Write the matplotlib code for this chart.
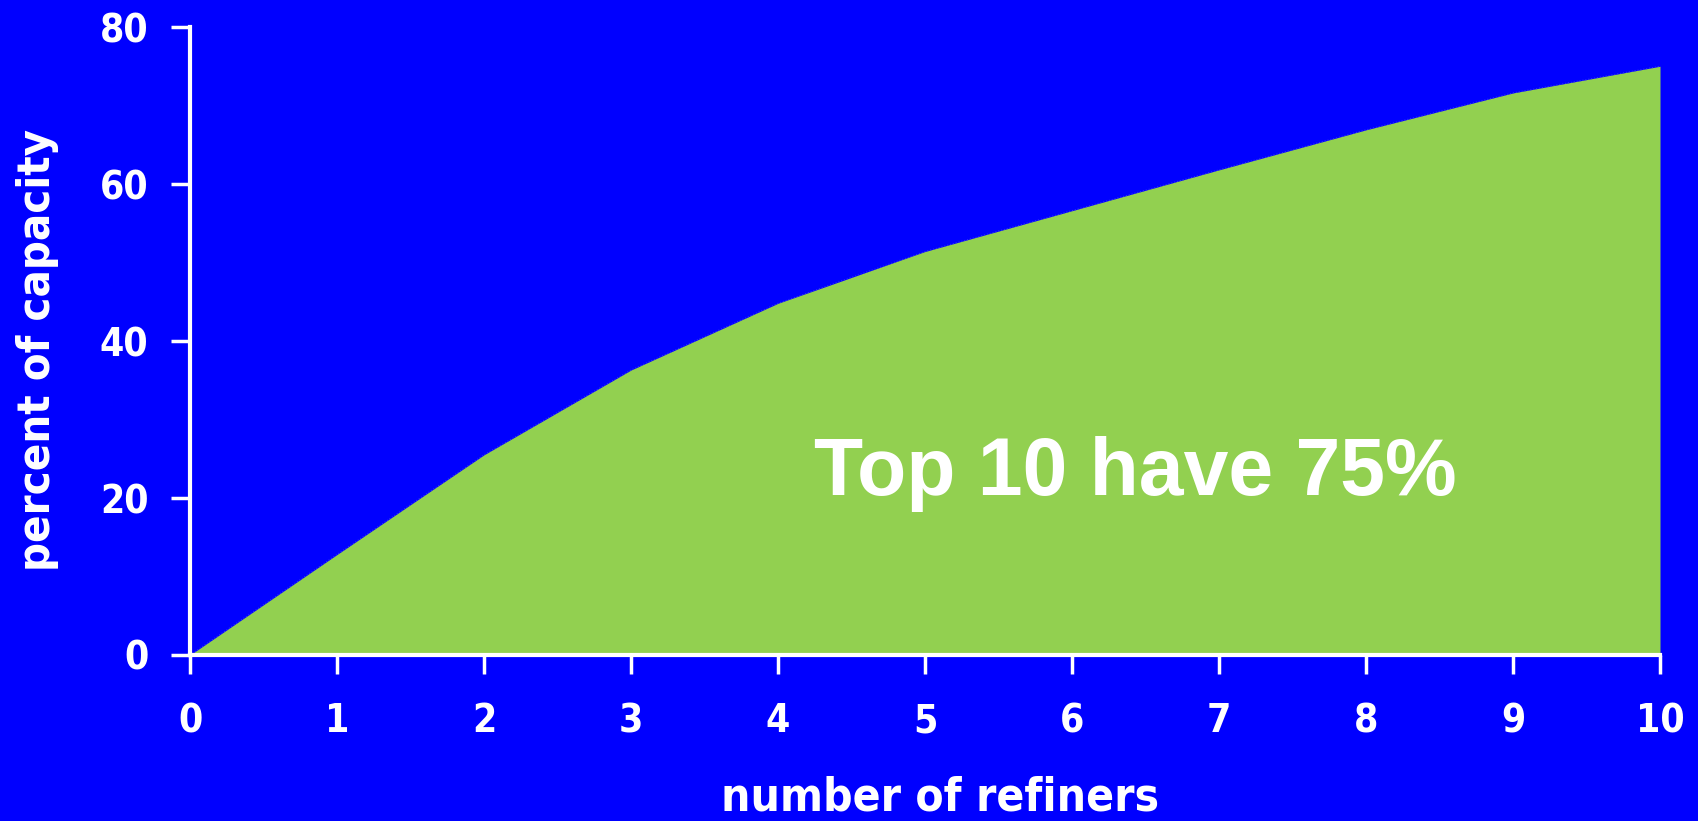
import matplotlib.pyplot as plt

# cumulative share of capacity held by the top N refiners
refiners = [0, 1, 2, 3, 4, 5, 6, 7, 8, 9, 10]
capacity_pct = [0, 12.8, 25.5, 36.3, 44.8, 51.4, 56.6, 61.8, 66.9, 71.6, 75.0]
x_ticks = [0, 1, 2, 3, 4, 5, 6, 7, 8, 9, 10]
y_ticks = [0, 20, 40, 60, 80]

bg = '#0000FF'
green = '#92D050'
font = ['DejaVu Sans']

fig = plt.figure(figsize=(16.98, 8.21), dpi=100, facecolor=bg)
ax = fig.add_axes([190 / 1698, 1 - 655 / 821, 1470 / 1698, 628 / 821])
ax.set_facecolor(bg)

ax.fill_between(refiners, capacity_pct, 0, color=green, linewidth=0)
ax.plot(refiners, capacity_pct, color='#3030ff', linewidth=0.8, linestyle=':')

ax.set_xlim(0, 10)
ax.set_ylim(0, 80)
ax.set_xticks(x_ticks)
ax.set_yticks(y_ticks)
tick_kw = dict(family=font, fontweight='heavy', fontstretch='condensed', fontsize=28, color='white')
ax.set_xticklabels([str(v) for v in x_ticks], **tick_kw)
ax.set_yticklabels([str(v) for v in y_ticks], **tick_kw)

for side in ['top', 'right']:
    ax.spines[side].set_visible(False)
for side in ['left', 'bottom']:
    ax.spines[side].set_color('white')
    ax.spines[side].set_linewidth(3)
ax.tick_params(axis='both', colors='white', width=2.5, length=14, direction='out')
ax.tick_params(axis='x', pad=20)
ax.tick_params(axis='y', pad=16)

label_kw = dict(family=font, fontweight='heavy', fontstretch='condensed', color='white')
# x label sits very low, almost touching the bottom edge
fig.text(0.5536, 0.0125, 'number of refiners', ha='center', va='baseline', fontsize=33, **label_kw)
ax.set_ylabel('percent of capacity', fontsize=32.5, **label_kw)
ax.yaxis.set_label_coords(-0.089, 0.486)

ax.text(6.43, 23, 'Top 10 have 75%', family=['Liberation Sans', 'DejaVu Sans'],
        fontweight='bold', fontsize=58, color='white', ha='center', va='center')

fig.savefig('out.png', dpi=100, facecolor=bg)
